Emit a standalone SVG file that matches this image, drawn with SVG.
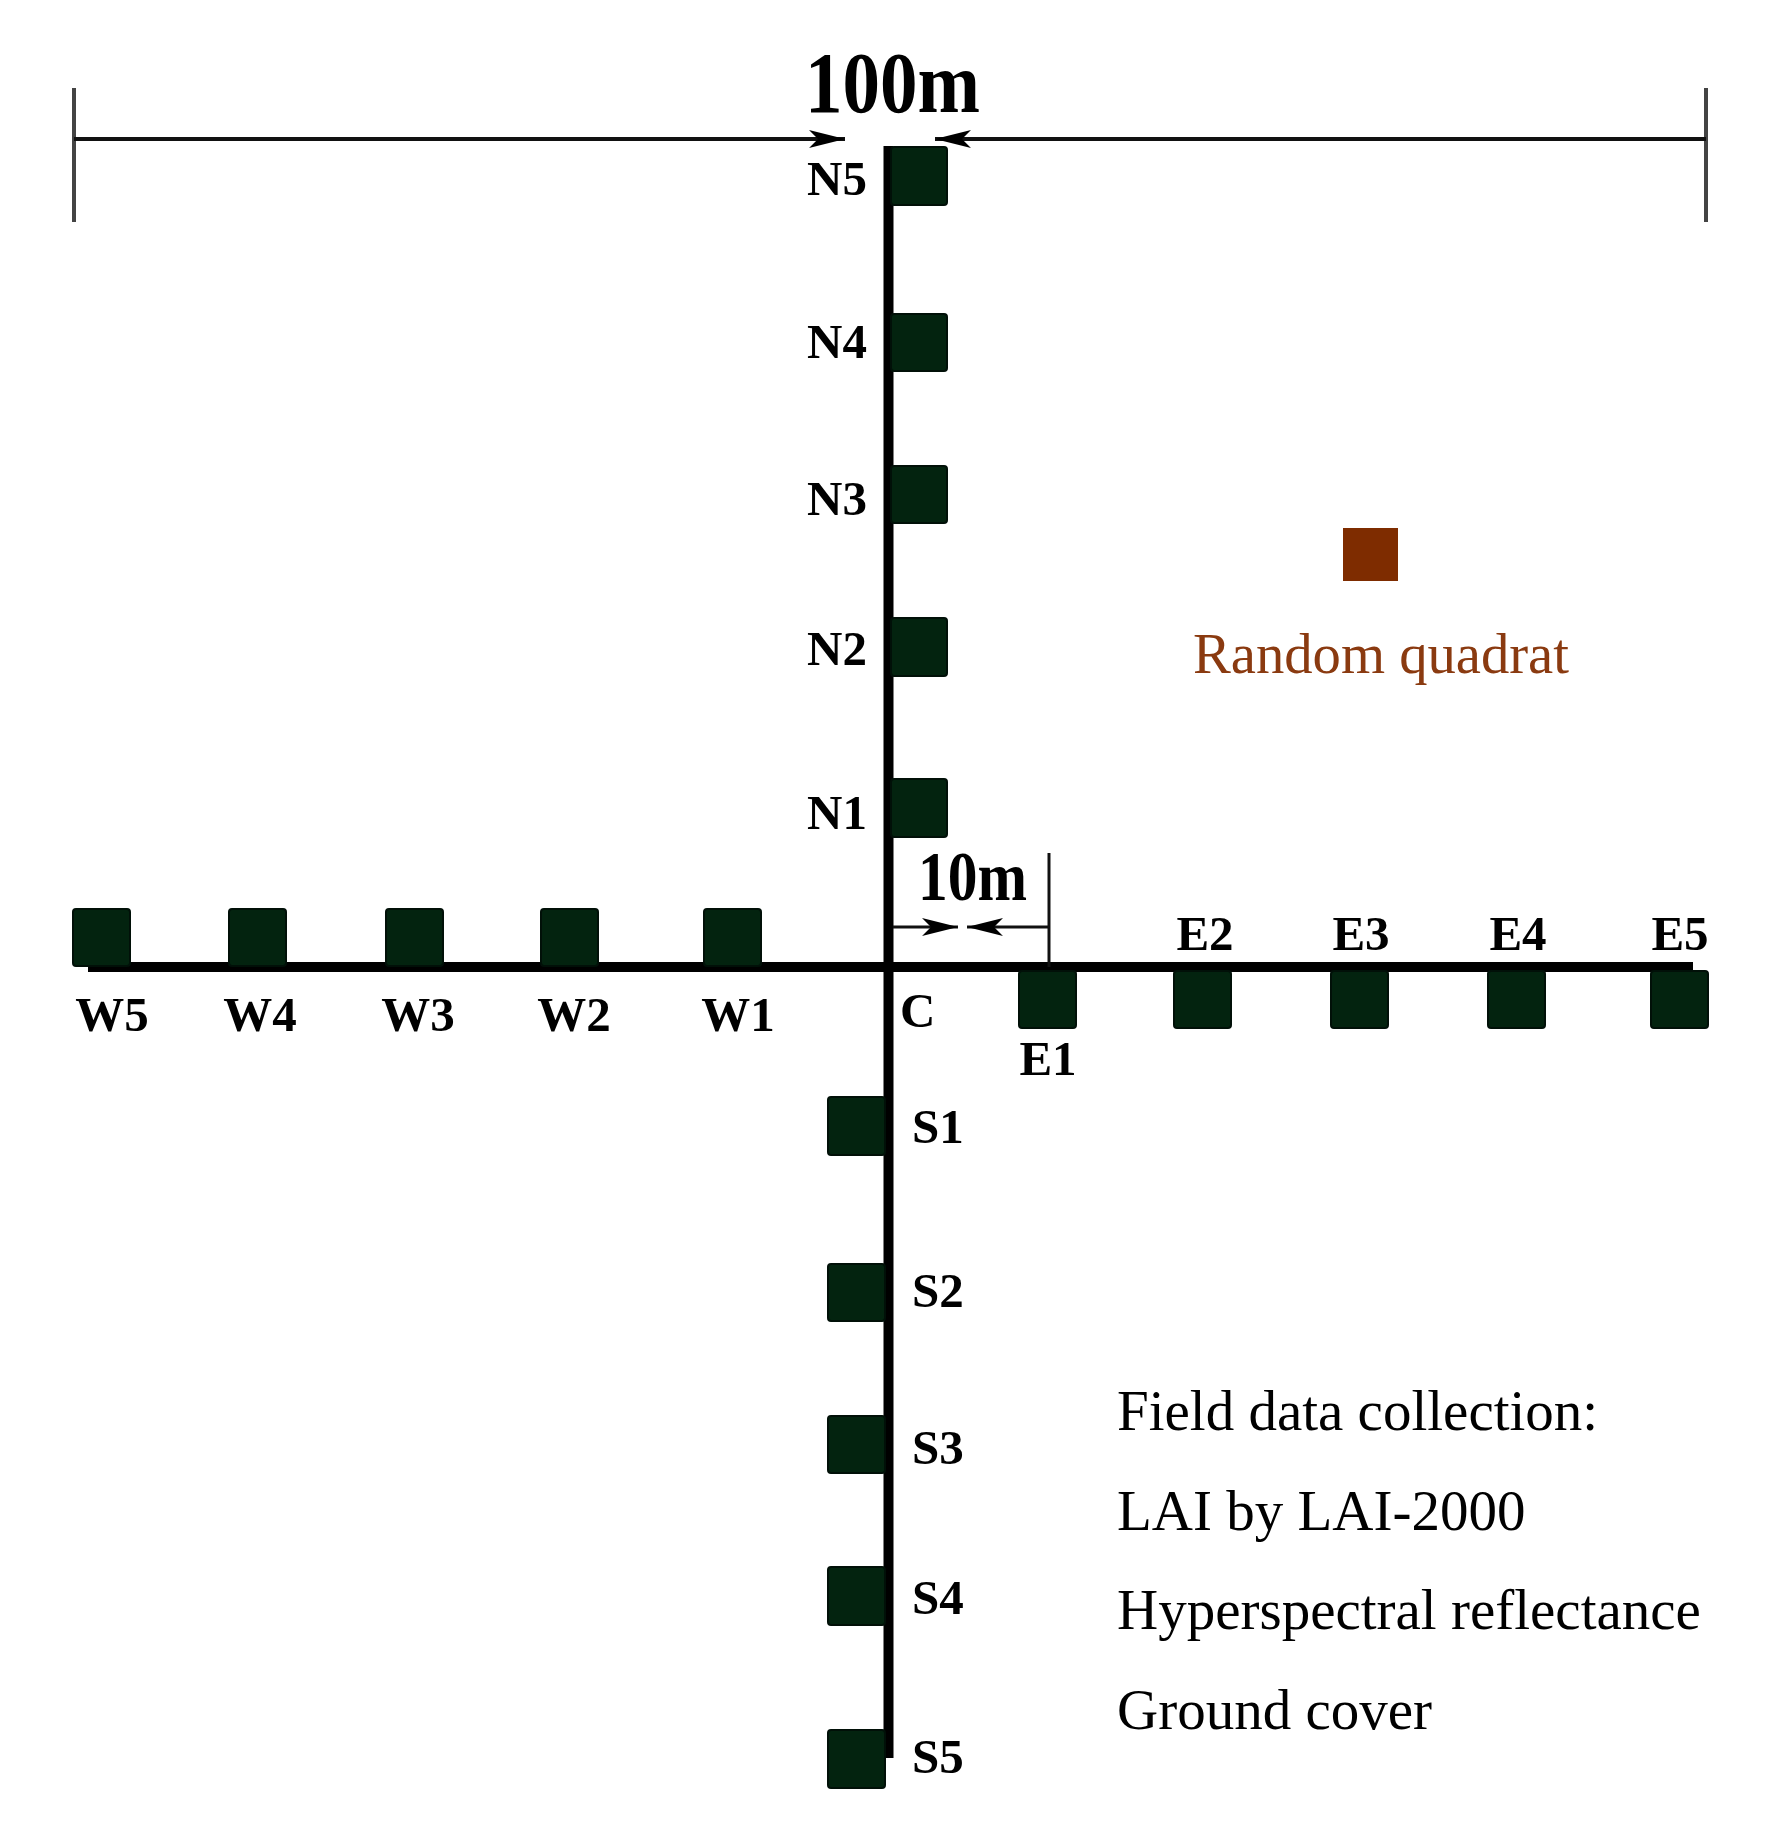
<svg xmlns="http://www.w3.org/2000/svg" width="1768" height="1838" viewBox="0 0 1768 1838">
<style>
.q{fill:#03230f;stroke:#011008;stroke-width:2}
.lb{font-family:"Liberation Serif",serif;font-weight:bold;font-size:49px;fill:#000}
.tx{font-family:"Liberation Serif",serif;font-size:57px;fill:#000}
.axis{stroke:#000;stroke-width:10;fill:none}
.dim{stroke:#111;stroke-width:4;fill:none}
.tick{stroke:#444;stroke-width:4;fill:none}
</style>
<defs>
<marker id="ah" viewBox="0 0 36 18" refX="36" refY="9" markerWidth="36" markerHeight="18" markerUnits="userSpaceOnUse" orient="auto">
<path d="M0,0 L36,9 L0,18 L9,9 Z" fill="#000"/>
</marker>
</defs>
<rect width="1768" height="1838" fill="#fff"/>
<g id="connectors">
<line class="axis" x1="888.5" y1="146" x2="888.5" y2="1758"/>
<line class="axis" x1="88" y1="967" x2="1693" y2="967"/>
<line class="tick" x1="74" y1="88" x2="74" y2="222"/>
<line class="tick" x1="1706" y1="88" x2="1706" y2="222"/>
<line class="dim" x1="74" y1="139" x2="845" y2="139" marker-end="url(#ah)"/>
<line class="dim" x1="1706" y1="139" x2="935" y2="139" marker-end="url(#ah)"/>
<line class="dim" x1="1049" y1="853" x2="1049" y2="967" style="stroke-width:3"/>
<line class="dim" x1="893" y1="927" x2="958" y2="927" style="stroke-width:3" marker-end="url(#ah)"/>
<line class="dim" x1="1049" y1="927" x2="967" y2="927" style="stroke-width:3" marker-end="url(#ah)"/>
</g>
<g id="scale-labels">
<text x="892.5" y="112" text-anchor="middle" font-family="Liberation Serif,serif" font-weight="bold" font-size="86" textLength="175" lengthAdjust="spacingAndGlyphs">100m</text>
<text x="972.5" y="900" text-anchor="middle" font-family="Liberation Serif,serif" font-weight="bold" font-size="70" textLength="109" lengthAdjust="spacingAndGlyphs">10m</text>
</g>
<g id="N5"><rect class="q" x="891" y="147" width="56" height="58" rx="3"/><text class="lb" x="867" y="195" text-anchor="end">N5</text></g>
<g id="N4"><rect class="q" x="891" y="314" width="56" height="57" rx="3"/><text class="lb" x="867" y="358" text-anchor="end">N4</text></g>
<g id="N3"><rect class="q" x="891" y="466" width="56" height="57" rx="3"/><text class="lb" x="867" y="515" text-anchor="end">N3</text></g>
<g id="N2"><rect class="q" x="891" y="618" width="56" height="58" rx="3"/><text class="lb" x="867" y="665" text-anchor="end">N2</text></g>
<g id="N1"><rect class="q" x="891" y="779" width="56" height="58" rx="3"/><text class="lb" x="867" y="829" text-anchor="end">N1</text></g>
<g id="W5"><rect class="q" x="73" y="909" width="57" height="57" rx="3"/><text class="lb" x="112" y="1031" text-anchor="middle">W5</text></g>
<g id="W4"><rect class="q" x="229" y="909" width="57" height="57" rx="3"/><text class="lb" x="260" y="1031" text-anchor="middle">W4</text></g>
<g id="W3"><rect class="q" x="386" y="909" width="57" height="57" rx="3"/><text class="lb" x="418" y="1031" text-anchor="middle">W3</text></g>
<g id="W2"><rect class="q" x="541" y="909" width="57" height="57" rx="3"/><text class="lb" x="574" y="1031" text-anchor="middle">W2</text></g>
<g id="W1"><rect class="q" x="704" y="909" width="57" height="57" rx="3"/><text class="lb" x="738" y="1031" text-anchor="middle">W1</text></g>
<g id="C"><text class="lb" x="900" y="1027">C</text></g>
<g id="E1"><rect class="q" x="1019" y="971" width="57" height="57" rx="3"/><text class="lb" x="1048" y="1075" text-anchor="middle">E1</text></g>
<g id="E2"><rect class="q" x="1174" y="971" width="57" height="57" rx="3"/><text class="lb" x="1205" y="950" text-anchor="middle">E2</text></g>
<g id="E3"><rect class="q" x="1331" y="971" width="57" height="57" rx="3"/><text class="lb" x="1361" y="950" text-anchor="middle">E3</text></g>
<g id="E4"><rect class="q" x="1488" y="971" width="57" height="57" rx="3"/><text class="lb" x="1518" y="950" text-anchor="middle">E4</text></g>
<g id="E5"><rect class="q" x="1651" y="971" width="57" height="57" rx="3"/><text class="lb" x="1680" y="950" text-anchor="middle">E5</text></g>
<g id="S1"><rect class="q" x="828" y="1097" width="57" height="58" rx="3"/><text class="lb" x="912" y="1143">S1</text></g>
<g id="S2"><rect class="q" x="828" y="1264" width="57" height="57" rx="3"/><text class="lb" x="912" y="1307">S2</text></g>
<g id="S3"><rect class="q" x="828" y="1416" width="57" height="57" rx="3"/><text class="lb" x="912" y="1464">S3</text></g>
<g id="S4"><rect class="q" x="828" y="1567" width="57" height="58" rx="3"/><text class="lb" x="912" y="1614">S4</text></g>
<g id="S5"><rect class="q" x="828" y="1730" width="57" height="58" rx="3"/><text class="lb" x="912" y="1773">S5</text></g>
<g id="random-quadrat">
<rect x="1343" y="528" width="55" height="53" fill="#7e2c00"/>
<text x="1193" y="673" font-family="Liberation Serif,serif" font-size="57" fill="#8a3a10" textLength="376" lengthAdjust="spacingAndGlyphs">Random quadrat</text>
</g>
<g id="field-data">
<text class="tx" x="1117" y="1430">Field data collection:</text>
<text class="tx" x="1117" y="1530">LAI by LAI-2000</text>
<text class="tx" x="1117" y="1629">Hyperspectral reflectance</text>
<text class="tx" x="1117" y="1729">Ground cover</text>
</g>
</svg>
